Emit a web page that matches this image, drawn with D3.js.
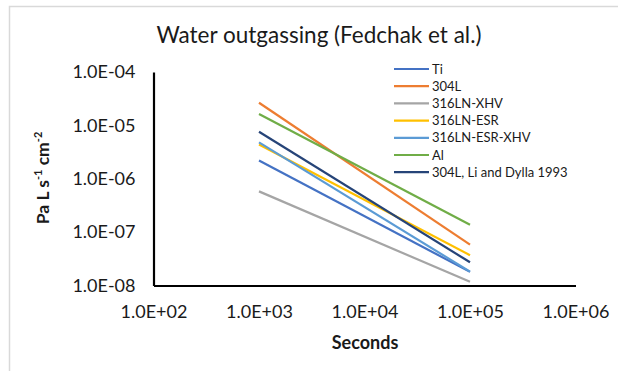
<!DOCTYPE html>
<html><head><meta charset="utf-8">
<script src="https://cdn.jsdelivr.net/npm/d3@7"></script>
<style>body{margin:0;background:#fff}svg{display:block}</style>
</head><body>
<svg id="c" width="618" height="371"></svg>
<script>
const seriesNames = ["Ti","304L","316LN-XHV","316LN-ESR","316LN-ESR-XHV","Al","304L, Li and Dylla 1993"];
const seriesColors = ["#4472C4","#ED7D31","#A5A5A5","#FFC000","#5B9BD5","#70AD47","#264478"];
const times = [1e3, 1e5];
const valuesAt1e3 = [2.2e-6, 2.65e-5, 5.8e-7, 4.4e-6, 4.8e-6, 1.63e-5, 7.6e-6];
const valuesAt1e5 = [1.8e-8, 5.85e-8, 1.17e-8, 3.7e-8, 1.82e-8, 1.38e-7, 2.72e-8];
const xTicks = [1e2,1e3,1e4,1e5,1e6];
const yTicks = [1e-8,1e-7,1e-6,1e-5,1e-4];

const font = "Lato, 'Open Sans', sans-serif";
const svg = d3.select("#c");
svg.append("rect").attr("x",9.5).attr("y",6.5).attr("width",640).attr("height",400)
  .attr("fill","#fff").attr("stroke","#d9d9d9").attr("stroke-width",1.5);

const x = d3.scaleLog().domain([1e2,1e6]).range([153.5,575.5]);
const y = d3.scaleLog().domain([1e-8,1e-4]).range([285.5,72]);
const fmt = v => { const e = Math.round(Math.log10(v)); return "1.0E" + (e<0?"-":"+") + String(Math.abs(e)).padStart(2,"0"); };

svg.append("text").attr("x",319).attr("y",43).attr("text-anchor","middle")
  .attr("font-family",font).attr("font-size",22.5).attr("fill","#1a1a1a")
  .text("Water outgassing (Fedchak et al.)");

const gy = svg.append("g").attr("transform",`translate(${x.range()[0]},0)`)
  .call(d3.axisLeft(y).tickValues(yTicks).tickFormat(fmt).tickSize(0).tickPadding(18));
gy.select(".domain").attr("stroke","#000").attr("stroke-width",2.2);
gy.selectAll("text").attr("font-family",font).attr("font-size",18).attr("fill","#1a1a1a");

const gx = svg.append("g").attr("transform",`translate(0,${y.range()[0]})`)
  .call(d3.axisBottom(x).tickValues(xTicks).tickFormat(fmt).tickSize(0).tickPadding(20));
gx.select(".domain").attr("stroke","#000").attr("stroke-width",2.2);
gx.selectAll("text").attr("font-family",font).attr("font-size",18).attr("fill","#1a1a1a");

svg.append("text").attr("x",365).attr("y",349).attr("text-anchor","middle")
  .attr("font-family",font).attr("font-size",18).attr("font-weight","bold").attr("fill","#1a1a1a")
  .text("Seconds");

const yl = svg.append("text").attr("transform","translate(49,178) rotate(-90)").attr("text-anchor","middle")
  .attr("font-family",font).attr("font-size",17.5).attr("font-weight","bold").attr("fill","#1a1a1a");
yl.append("tspan").text("Pa L s");
yl.append("tspan").attr("font-size",11).attr("dy",-7).text("-1");
yl.append("tspan").attr("dy",7).text(" cm");
yl.append("tspan").attr("font-size",11).attr("dy",-7).text("-2");

const line = d3.line().x(d=>x(d[0])).y(d=>y(d[1]));
seriesNames.forEach((n,i)=>{
  svg.append("path").datum([[times[0],valuesAt1e3[i]],[times[1],valuesAt1e5[i]]])
    .attr("d",line).attr("fill","none").attr("stroke",seriesColors[i]).attr("stroke-width",2.2);
});

const lg = svg.append("g");
seriesNames.forEach((n,i)=>{
  const yy = 69 + i*17.2;
  lg.append("line").attr("x1",394).attr("x2",429).attr("y1",yy).attr("y2",yy)
    .attr("stroke",seriesColors[i]).attr("stroke-width",2.2);
  lg.append("text").attr("x",432).attr("y",yy).attr("dy","0.35em")
    .attr("font-family",font).attr("font-size",13).attr("fill","#1a1a1a").text(n);
});
</script>
</body></html>
